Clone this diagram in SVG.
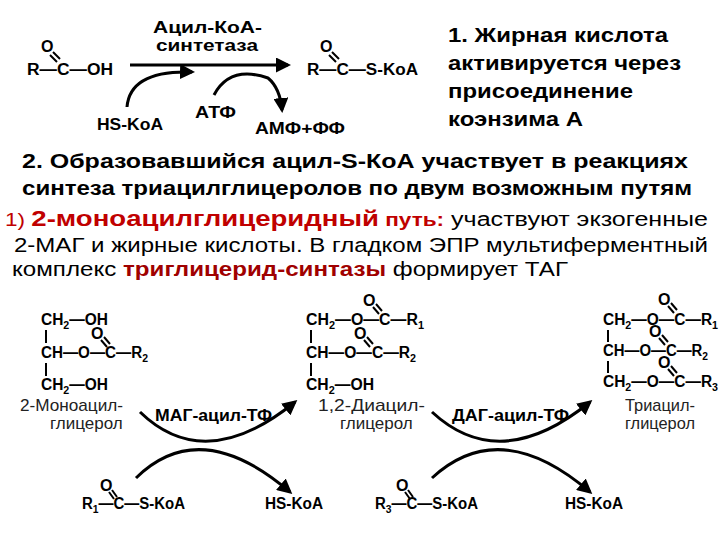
<svg xmlns="http://www.w3.org/2000/svg" width="720" height="540" viewBox="0 0 720 540">
<defs>
<marker id="ah" viewBox="0 0 10 10" refX="8" refY="5" markerWidth="5" markerHeight="5" orient="auto" markerUnits="strokeWidth"><path d="M0,0 L10,5 L0,10 z" fill="#000"/></marker>
<style>
.c{font-family:"Liberation Sans",Arial,sans-serif;font-weight:bold;font-size:16px;fill:#000}
.h{font-family:"Liberation Sans",Arial,sans-serif;font-weight:bold;font-size:20px;fill:#000}
.n{font-family:"Liberation Sans",Arial,sans-serif;font-size:20px;fill:#000}
.l{font-family:"Liberation Sans",Arial,sans-serif;font-size:17px;fill:#222}
.s{font-size:11px}
.b{stroke:#000;stroke-width:2;fill:none}
.a{stroke:#000;stroke-width:3;fill:none;marker-end:url(#ah)}
</style>
</defs>
<rect width="720" height="540" fill="#fff"/>
<g id="texts">
<text class="h" x="448" y="42" textLength="220" lengthAdjust="spacingAndGlyphs">1. Жирная кислота</text>
<text class="h" x="448" y="70" textLength="233" lengthAdjust="spacingAndGlyphs">активируется через</text>
<text class="h" x="448" y="98" textLength="185" lengthAdjust="spacingAndGlyphs">присоединение</text>
<text class="h" x="448" y="126" textLength="135" lengthAdjust="spacingAndGlyphs">коэнзима А</text>
<text class="h" x="22" y="168" textLength="666" lengthAdjust="spacingAndGlyphs">2. Образовавшийся ацил-S-КоА участвует в реакциях</text>
<text class="h" x="22" y="195" textLength="670" lengthAdjust="spacingAndGlyphs">синтеза триацилглицеролов по двум возможным путям</text>
<text x="5" y="226" class="n" textLength="703" lengthAdjust="spacingAndGlyphs"><tspan fill="#c00000" font-size="18">1) </tspan><tspan fill="#c00000" font-weight="bold" font-size="22">2-моноацилглицеридный</tspan><tspan fill="#c00000" font-weight="bold" font-size="18"> путь:</tspan> участвуют экзогенные</text>
<text class="n" x="14" y="252" textLength="694" lengthAdjust="spacingAndGlyphs">2-МАГ и жирные кислоты. В гладком ЭПР мультиферментный</text>
<text class="n" x="12" y="276" textLength="556" lengthAdjust="spacingAndGlyphs">комплекс <tspan fill="#a00000" font-weight="bold">триглицерид-синтазы</tspan> формирует ТАГ</text>
</g>
<g id="fa">
<text class="c" x="27" y="75" textLength="86" lengthAdjust="spacingAndGlyphs">R—C—OH</text><text class="c" x="41" y="52">O</text>
<path class="b" d="M50,55 L57,62 M53,52 L60,59"/>
</g>
<g id="acylcoa">
<text class="c" x="307" y="75" textLength="111" lengthAdjust="spacingAndGlyphs">R—C—S-KoA</text><text class="c" x="320" y="52">O</text>
<path class="b" d="M329,55 L336,62 M332,52 L339,59"/>
</g>
<g id="enz1"><text class="c" x="153" y="33" textLength="109" lengthAdjust="spacingAndGlyphs">Ацил-КоА-</text><text class="c" x="156" y="51" textLength="102" lengthAdjust="spacingAndGlyphs">синтетаза</text></g>
<g id="hs1"><text class="c" x="97" y="130" textLength="66" lengthAdjust="spacingAndGlyphs">HS-KoA</text></g>
<g id="atp"><text class="c" x="195" y="118" textLength="41" lengthAdjust="spacingAndGlyphs">АТФ</text></g>
<g id="amp"><text class="c" x="255" y="134" textLength="90" lengthAdjust="spacingAndGlyphs">АМФ+ФФ</text></g>
<g id="mag">
<text class="c" x="41" y="325" textLength="67" lengthAdjust="spacingAndGlyphs">CH<tspan class="s" dy="4">2</tspan><tspan dy="-4">—OH</tspan></text>
<text class="c" x="41" y="358" textLength="107" lengthAdjust="spacingAndGlyphs">CH—O—C—R<tspan class="s" dy="4">2</tspan></text>
<text class="c" x="41" y="390" textLength="67" lengthAdjust="spacingAndGlyphs">CH<tspan class="s" dy="4">2</tspan><tspan dy="-4">—OH</tspan></text>
<text class="c" x="91" y="339">O</text>
<path class="b" d="M46,330 V343 M46,363 V376 M101,340 L107,347 M104,337 L110,344"/>
<text class="l" x="20" y="411" textLength="103" lengthAdjust="spacingAndGlyphs">2-Моноацил-</text><text class="l" x="50" y="429">глицерол</text>
</g>
<g id="dag">
<text class="c" x="306" y="325" textLength="118" lengthAdjust="spacingAndGlyphs">CH<tspan class="s" dy="4">2</tspan><tspan dy="-4">—O—C—R</tspan><tspan class="s" dy="4">1</tspan></text>
<text class="c" x="306" y="358" textLength="110" lengthAdjust="spacingAndGlyphs">CH—O—C—R<tspan class="s" dy="4">2</tspan></text>
<text class="c" x="306" y="390" textLength="68" lengthAdjust="spacingAndGlyphs">CH<tspan class="s" dy="4">2</tspan><tspan dy="-4">—OH</tspan></text>
<text class="c" x="363" y="306">O</text><text class="c" x="354" y="339">O</text>
<path class="b" d="M311,330 V343 M311,363 V376 M373,307 L379,314 M376,304 L382,311 M364,340 L370,347 M367,337 L373,344"/>
<text class="l" x="318" y="411" textLength="107" lengthAdjust="spacingAndGlyphs">1,2-Диацил-</text><text class="l" x="340" y="429">глицерол</text>
</g>
<g id="tag">
<text class="c" x="603" y="325" textLength="115" lengthAdjust="spacingAndGlyphs">CH<tspan class="s" dy="4">2</tspan><tspan dy="-4">—O—C—R</tspan><tspan class="s" dy="4">1</tspan></text>
<text class="c" x="603" y="356" textLength="105" lengthAdjust="spacingAndGlyphs">CH—O—C—R<tspan class="s" dy="4">2</tspan></text>
<text class="c" x="603" y="387" textLength="115" lengthAdjust="spacingAndGlyphs">CH<tspan class="s" dy="4">2</tspan><tspan dy="-4">—O—C—R</tspan><tspan class="s" dy="4">3</tspan></text>
<text class="c" x="658" y="305">O</text><text class="c" x="649" y="337">O</text><text class="c" x="658" y="368">O</text>
<path class="b" d="M608,330 V342 M608,361 V373 M668,306 L674,313 M671,303 L677,310 M659,338 L665,345 M662,335 L668,342 M668,369 L674,376 M671,366 L677,373"/>
<text class="l" x="625" y="411" textLength="70" lengthAdjust="spacingAndGlyphs">Триацил-</text><text class="l" x="625" y="429" textLength="70" lengthAdjust="spacingAndGlyphs">глицерол</text>
</g>
<g id="r1coa"><text class="c" x="82" y="509" textLength="103" lengthAdjust="spacingAndGlyphs">R<tspan class="s" dy="4">1</tspan><tspan dy="-4">—C—S-KoA</tspan></text><text class="c" x="100" y="491">O</text><path class="b" d="M109,492 L114,499 M112,490 L117,497"/></g>
<g id="hs2"><text class="c" x="265" y="509" textLength="58" lengthAdjust="spacingAndGlyphs">HS-KoA</text></g>
<g id="r3coa"><text class="c" x="375" y="509" textLength="103" lengthAdjust="spacingAndGlyphs">R<tspan class="s" dy="4">3</tspan><tspan dy="-4">—C—S-KoA</tspan></text><text class="c" x="396" y="491">O</text><path class="b" d="M405,492 L410,499 M408,490 L413,497"/></g>
<g id="hs3"><text class="c" x="565" y="509" textLength="58" lengthAdjust="spacingAndGlyphs">HS-KoA</text></g>
<g id="enz2"><text class="c" x="155" y="421" textLength="117" lengthAdjust="spacingAndGlyphs">МАГ-ацил-ТФ</text></g>
<g id="enz3"><text class="c" x="452" y="421" textLength="117" lengthAdjust="spacingAndGlyphs">ДАГ-ацил-ТФ</text></g>
<g id="connectors">
<path class="a" d="M130,65 H288"/>
<path class="a" d="M127,107 Q130,70 192,72"/>
<path class="a" d="M214,95 Q230,65 268,78 Q280,88 282,110"/>
<path class="a" d="M140,412 Q205,475 295,402"/>
<path class="a" d="M136,478 Q200,415 290,492"/>
<path class="a" d="M432,412 Q500,475 590,402"/>
<path class="a" d="M432,478 Q500,415 590,492"/>
</g>
</svg>
